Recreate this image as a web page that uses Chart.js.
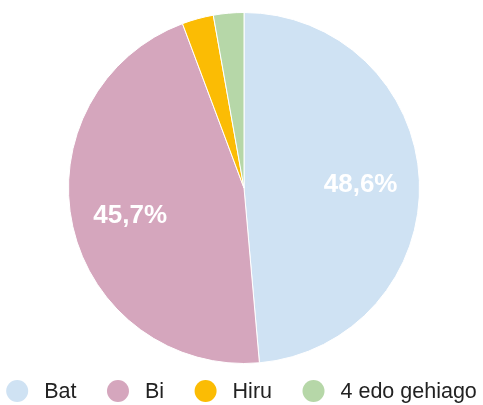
<!DOCTYPE html>
<html><head><meta charset="utf-8">
<script src="https://cdn.jsdelivr.net/npm/chart.js@4.4.0/dist/chart.umd.min.js"></script>
<style>html,body{margin:0;padding:0;background:#fff}#wrap{width:483px;height:405px}</style>
</head><body><div id="wrap"><canvas id="c" width="483" height="405"></canvas></div>
<script>
const categories = ["Bat", "Bi", "Hiru", "4 edo gehiago"];
const values = [48.6, 45.7, 2.9, 2.8];
const colors = ["#cfe2f3", "#d5a6bd", "#fbbc04", "#b6d7a8"];
const shownLabels = ["48,6%", "45,7%", "", ""];

const labelPlugin = {
  id: 'sliceLabels',
  afterDatasetsDraw(chart){
    const ctx = chart.ctx;
    const meta = chart.getDatasetMeta(0);
    ctx.save();
    ctx.fillStyle = '#ffffff';
    ctx.font = 'bold 26px "Liberation Sans", Arial, sans-serif';
    ctx.textAlign = 'center'; ctx.textBaseline = 'middle';
    meta.data.forEach((arc, i) => {
      if (!shownLabels[i]) return;
      const p = arc.getProps(['x','y','startAngle','endAngle','outerRadius'], true);
      const a = (p.startAngle + p.endAngle)/2;
      const r = p.outerRadius * 0.665;
      ctx.fillText(shownLabels[i], p.x + Math.cos(a)*r, p.y + Math.sin(a)*r + 2);
    });
    ctx.restore();
  }
};

const legendPlugin = {
  id: 'customLegend',
  afterDraw(chart){
    const ctx = chart.ctx;
    ctx.save();
    ctx.font = '21.5px "Liberation Sans", Arial, sans-serif';
    ctx.textBaseline = 'middle'; ctx.textAlign = 'left';
    const dotR = 11, textOff = 27, step = 41.5;
    const widths = categories.map(t => ctx.measureText(t).width);
    const total = dotR + widths.reduce((s, w) => s + textOff + w, 0) + step * (widths.length - 1);
    let cx = (chart.width - total) / 2 + dotR;
    const y = 391;
    categories.forEach((t, i) => {
      ctx.fillStyle = colors[i];
      ctx.beginPath(); ctx.arc(cx, y, dotR, 0, Math.PI * 2); ctx.fill();
      ctx.fillStyle = '#222222';
      ctx.fillText(t, cx + textOff, y + 1);
      cx = cx + textOff + widths[i] + step;
    });
    ctx.restore();
  }
};

new Chart(document.getElementById('c'), {
  type: 'pie',
  data: { labels: categories, datasets: [{ data: values, backgroundColor: colors, borderColor: '#ffffff', borderWidth: 1 }] },
  options: {
    responsive: false, animation: false,
    layout: { padding: { top: 12, bottom: 41, left: 5, right: 0 } },
    plugins: { tooltip: { enabled: false }, legend: { display: false } }
  },
  plugins: [labelPlugin, legendPlugin]
});
</script></body></html>
